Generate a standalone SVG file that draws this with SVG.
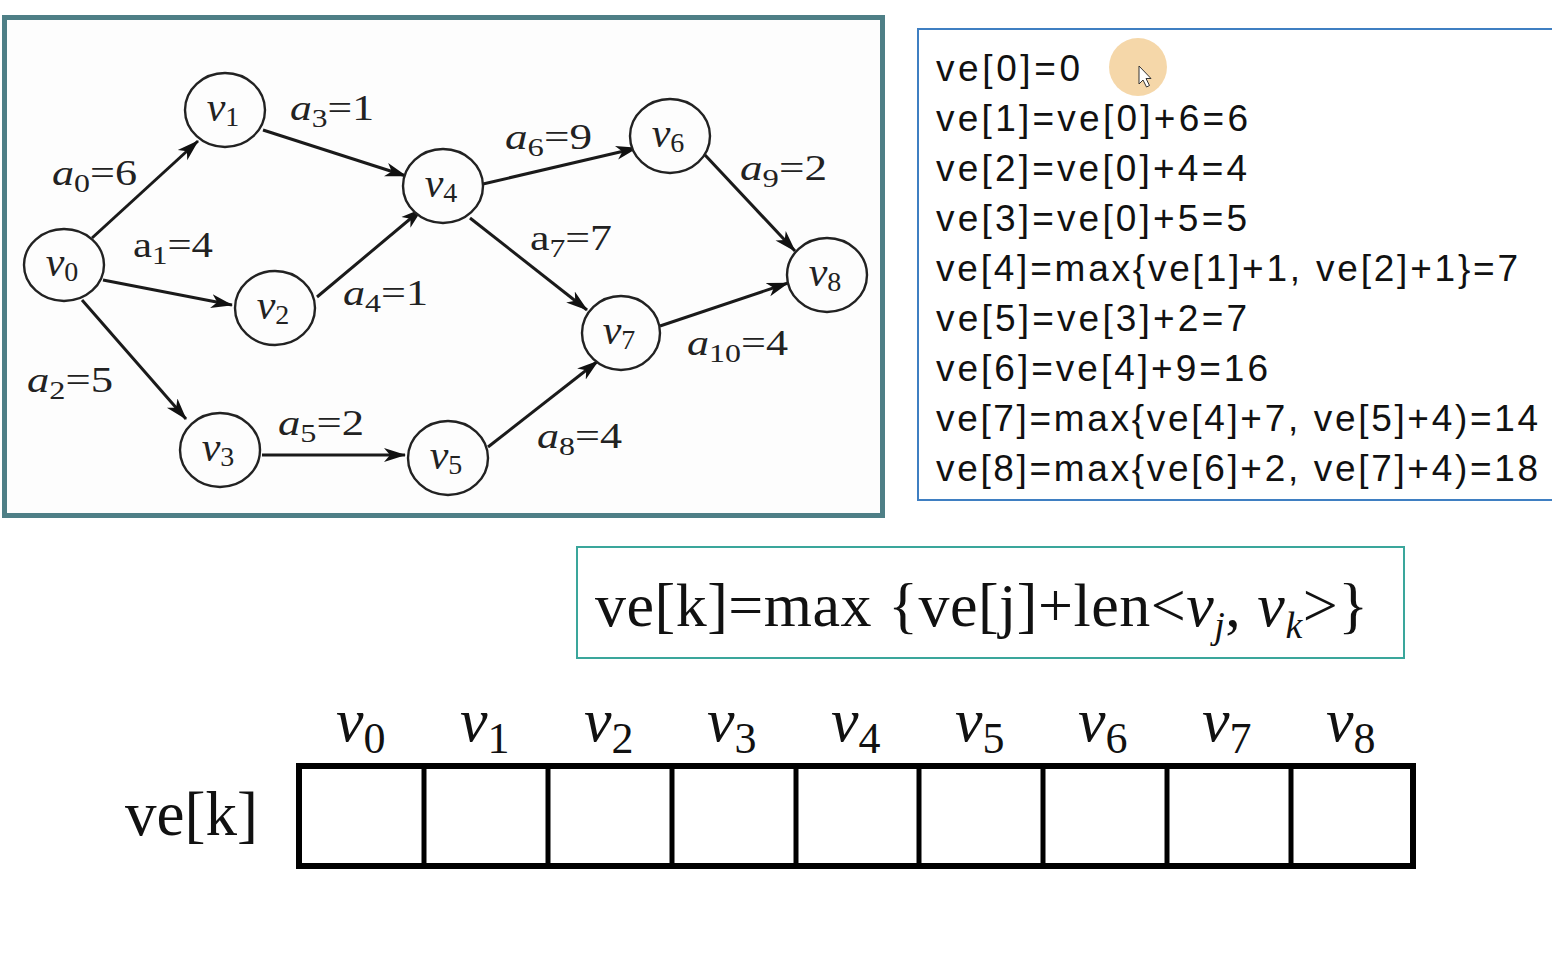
<svg xmlns="http://www.w3.org/2000/svg" width="1552" height="975" viewBox="0 0 1552 975">
<style>
.node ellipse{fill:#fdfdfd;stroke:#222;stroke-width:2.4}
.nl{font-family:"Liberation Serif",serif;font-size:42px;fill:#222;text-anchor:middle}
.el{font-family:"Liberation Serif",serif;font-size:36px;fill:#222}
.edge{stroke:#1a1a1a;stroke-width:3;fill:none;marker-end:url(#arr)}
.ve{font-family:"Liberation Sans",Arial,sans-serif;font-size:37px;fill:#111}
.tm{font-family:"Liberation Serif","Times New Roman",serif;fill:#111}
.it{font-style:italic}
</style>
<defs>
<marker id="arr" markerWidth="24" markerHeight="16" refX="21" refY="8" orient="auto" markerUnits="userSpaceOnUse">
<path d="M0,1 L22,8 L0,15 L6,8 z" fill="#111"/>
</marker>
</defs>
<rect x="0" y="0" width="1552" height="975" fill="#ffffff"/>

<!-- graph frame -->
<rect id="graph-frame" x="4.5" y="17.5" width="878" height="498" fill="#fdfdfd" stroke="#4e7f86" stroke-width="5"/>

<g id="connectors">
<line class="edge" x1="92" y1="238" x2="198" y2="141"/>
<line class="edge" x1="103" y1="280" x2="232" y2="305"/>
<line class="edge" x1="82" y1="300" x2="186" y2="419"/>
<line class="edge" x1="263" y1="130" x2="406" y2="176"/>
<line class="edge" x1="317" y1="297" x2="422" y2="209"/>
<line class="edge" x1="262" y1="455" x2="405" y2="455"/>
<line class="edge" x1="483" y1="184" x2="637" y2="148"/>
<line class="edge" x1="470" y1="218" x2="587" y2="310"/>
<line class="edge" x1="488" y1="447" x2="598" y2="361"/>
<line class="edge" x1="705" y1="155" x2="795" y2="251"/>
<line class="edge" x1="660" y1="326" x2="788" y2="283"/>
</g>

<g id="edge-labels">
<text class="el" x="52" y="185" textLength="85" lengthAdjust="spacingAndGlyphs"><tspan class="it">a</tspan><tspan font-size="26" dy="7">0</tspan><tspan dy="-7">=6</tspan></text>
<text class="el" x="133" y="257" textLength="80" lengthAdjust="spacingAndGlyphs">a<tspan font-size="26" dy="7">1</tspan><tspan dy="-7">=4</tspan></text>
<text class="el" x="27" y="392" textLength="86" lengthAdjust="spacingAndGlyphs"><tspan class="it">a</tspan><tspan font-size="26" dy="7">2</tspan><tspan dy="-7">=5</tspan></text>
<text class="el" x="290" y="120" textLength="84" lengthAdjust="spacingAndGlyphs"><tspan class="it">a</tspan><tspan font-size="26" dy="7">3</tspan><tspan dy="-7">=1</tspan></text>
<text class="el" x="343" y="305" textLength="85" lengthAdjust="spacingAndGlyphs"><tspan class="it">a</tspan><tspan font-size="26" dy="7">4</tspan><tspan dy="-7">=1</tspan></text>
<text class="el" x="278" y="435" textLength="86" lengthAdjust="spacingAndGlyphs"><tspan class="it">a</tspan><tspan font-size="26" dy="7">5</tspan><tspan dy="-7">=2</tspan></text>
<text class="el" x="505" y="149" textLength="87" lengthAdjust="spacingAndGlyphs"><tspan class="it">a</tspan><tspan font-size="26" dy="7">6</tspan><tspan dy="-7">=9</tspan></text>
<text class="el" x="530" y="250" textLength="82" lengthAdjust="spacingAndGlyphs">a<tspan font-size="26" dy="7">7</tspan><tspan dy="-7">=7</tspan></text>
<text class="el" x="537" y="448" textLength="85" lengthAdjust="spacingAndGlyphs"><tspan class="it">a</tspan><tspan font-size="26" dy="7">8</tspan><tspan dy="-7">=4</tspan></text>
<text class="el" x="740" y="180" textLength="87" lengthAdjust="spacingAndGlyphs"><tspan class="it">a</tspan><tspan font-size="26" dy="7">9</tspan><tspan dy="-7">=2</tspan></text>
<text class="el" x="687" y="355" textLength="101" lengthAdjust="spacingAndGlyphs"><tspan class="it">a</tspan><tspan font-size="26" dy="7">10</tspan><tspan dy="-7">=4</tspan></text>
</g>

<g id="v0" class="node"><ellipse cx="64" cy="265" rx="40" ry="36"/><text class="nl" x="62" y="276"><tspan class="it">v</tspan><tspan font-size="28" dy="5">0</tspan></text></g>
<g id="v1" class="node"><ellipse cx="225" cy="110" rx="40" ry="37"/><text class="nl" x="223" y="121"><tspan class="it">v</tspan><tspan font-size="28" dy="5">1</tspan></text></g>
<g id="v2" class="node"><ellipse cx="275" cy="308" rx="40" ry="37"/><text class="nl" x="273" y="319"><tspan class="it">v</tspan><tspan font-size="28" dy="5">2</tspan></text></g>
<g id="v3" class="node"><ellipse cx="220" cy="450" rx="40" ry="37"/><text class="nl" x="218" y="461"><tspan class="it">v</tspan><tspan font-size="28" dy="5">3</tspan></text></g>
<g id="v4" class="node"><ellipse cx="443" cy="186" rx="40" ry="37"/><text class="nl" x="441" y="197"><tspan class="it">v</tspan><tspan font-size="28" dy="5">4</tspan></text></g>
<g id="v5" class="node"><ellipse cx="448" cy="458" rx="40" ry="37"/><text class="nl" x="446" y="469"><tspan class="it">v</tspan><tspan font-size="28" dy="5">5</tspan></text></g>
<g id="v6" class="node"><ellipse cx="670" cy="136" rx="40" ry="37"/><text class="nl" x="668" y="147"><tspan class="it">v</tspan><tspan font-size="28" dy="5">6</tspan></text></g>
<g id="v7" class="node"><ellipse cx="621" cy="333" rx="39" ry="37"/><text class="nl" x="619" y="344"><tspan class="it">v</tspan><tspan font-size="28" dy="5">7</tspan></text></g>
<g id="v8" class="node"><ellipse cx="827" cy="275" rx="40" ry="37"/><text class="nl" x="825" y="286"><tspan class="it">v</tspan><tspan font-size="28" dy="5">8</tspan></text></g>

<!-- ve computation box -->
<g id="ve-box">
<rect x="918" y="29" width="700" height="471" fill="#ffffff" stroke="#3f7fc2" stroke-width="2"/>
<circle cx="1138" cy="67" r="29" fill="#f2c98c" opacity="0.75"/>
<path d="M1139,66 L1139,84 L1143,80 L1146.5,87 L1149.5,85.5 L1146,78.5 L1151,78.5 Z" fill="#ffffff" stroke="#333" stroke-width="1"/>
<text class="ve" x="936" y="81" textLength="144" lengthAdjust="spacing">ve[0]=0</text>
<text class="ve" x="936" y="131" textLength="312" lengthAdjust="spacing">ve[1]=ve[0]+6=6</text>
<text class="ve" x="936" y="181" textLength="311" lengthAdjust="spacing">ve[2]=ve[0]+4=4</text>
<text class="ve" x="936" y="231" textLength="311" lengthAdjust="spacing">ve[3]=ve[0]+5=5</text>
<text class="ve" x="936" y="281" textLength="582" lengthAdjust="spacing">ve[4]=max{ve[1]+1, ve[2]+1}=7</text>
<text class="ve" x="936" y="331" textLength="311" lengthAdjust="spacing">ve[5]=ve[3]+2=7</text>
<text class="ve" x="936" y="381" textLength="332" lengthAdjust="spacing">ve[6]=ve[4]+9=16</text>
<text class="ve" x="936" y="431" textLength="602" lengthAdjust="spacing">ve[7]=max{ve[4]+7, ve[5]+4)=14</text>
<text class="ve" x="936" y="481" textLength="602" lengthAdjust="spacing">ve[8]=max{ve[6]+2, ve[7]+4)=18</text>
</g>

<!-- formula -->
<g id="formula">
<rect x="577" y="547" width="827" height="111" fill="#ffffff" stroke="#3aa69b" stroke-width="2"/>
<text class="tm" x="595" y="626" font-size="62" textLength="773" lengthAdjust="spacing">ve[k]=max {ve[j]+len&lt;<tspan class="it">v</tspan><tspan class="it" font-size="38" dy="12">j</tspan><tspan dy="-12">, </tspan><tspan class="it">v</tspan><tspan class="it" font-size="38" dy="12">k</tspan><tspan dy="-12">&gt;}</tspan></text>
</g>

<!-- ve[k] table -->
<g id="ve-table">
<text class="tm" x="125" y="835" font-size="63">ve[k]</text>
<rect x="299" y="766" width="1114" height="100" fill="#ffffff" stroke="#000" stroke-width="6"/>
<g stroke="#000" stroke-width="5">
<line x1="424" y1="766" x2="424" y2="866"/>
<line x1="548" y1="766" x2="548" y2="866"/>
<line x1="672" y1="766" x2="672" y2="866"/>
<line x1="796" y1="766" x2="796" y2="866"/>
<line x1="919" y1="766" x2="919" y2="866"/>
<line x1="1043" y1="766" x2="1043" y2="866"/>
<line x1="1167" y1="766" x2="1167" y2="866"/>
<line x1="1291" y1="766" x2="1291" y2="866"/>
</g>
<g class="tm" font-size="62">
<text x="336" y="741"><tspan class="it">v</tspan><tspan font-size="44" dy="12">0</tspan></text>
<text x="460" y="741"><tspan class="it">v</tspan><tspan font-size="44" dy="12">1</tspan></text>
<text x="584" y="741"><tspan class="it">v</tspan><tspan font-size="44" dy="12">2</tspan></text>
<text x="707" y="741"><tspan class="it">v</tspan><tspan font-size="44" dy="12">3</tspan></text>
<text x="831" y="741"><tspan class="it">v</tspan><tspan font-size="44" dy="12">4</tspan></text>
<text x="955" y="741"><tspan class="it">v</tspan><tspan font-size="44" dy="12">5</tspan></text>
<text x="1078" y="741"><tspan class="it">v</tspan><tspan font-size="44" dy="12">6</tspan></text>
<text x="1202" y="741"><tspan class="it">v</tspan><tspan font-size="44" dy="12">7</tspan></text>
<text x="1326" y="741"><tspan class="it">v</tspan><tspan font-size="44" dy="12">8</tspan></text>
</g>
</g>
</svg>
